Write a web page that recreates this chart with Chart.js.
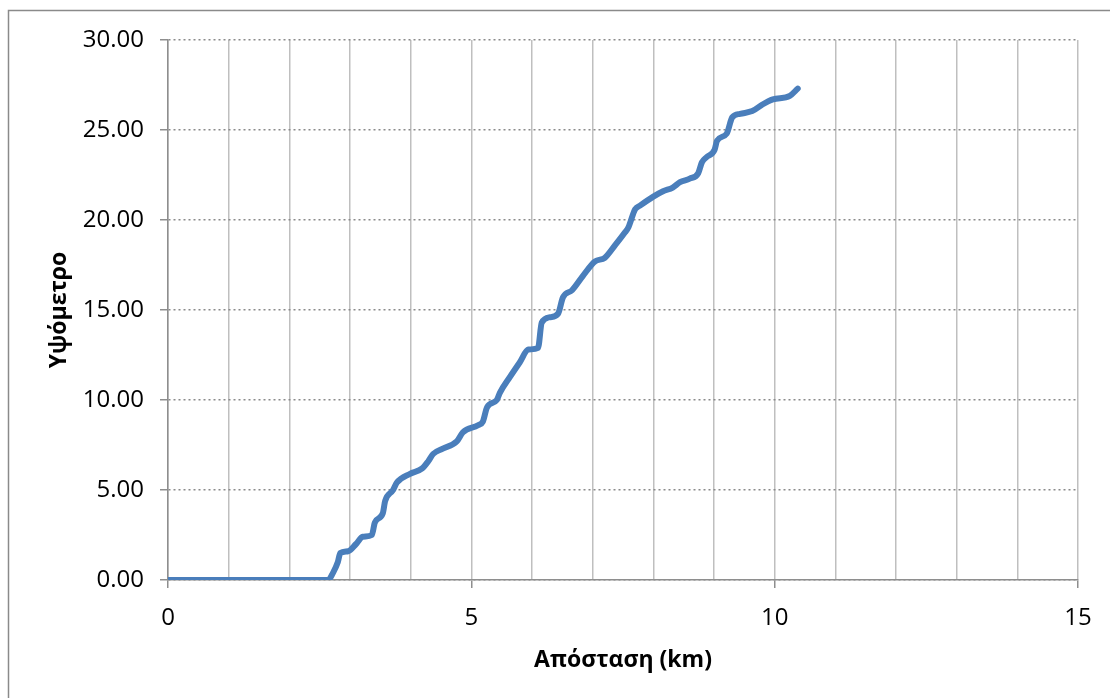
<!DOCTYPE html>
<html lang="el">
<head>
    <meta charset="UTF-8" />
    <title>Υψόμετρο - Απόσταση</title>
    <script src="https://cdn.jsdelivr.net/npm/chart.js"></script>
    <style>
        body { margin: 0; background: #fff; }
        canvas { display: block; }
    </style>
</head>
<body>
<canvas id="elevationChart" width="1110" height="698"></canvas>
<script>
    // distance along the route (km) and elevation
    const dist = [0, 2.64, 2.72, 2.80, 2.84, 2.97, 3.10, 3.21, 3.36, 3.41, 3.54, 3.58, 3.71, 3.77, 3.99,
        4.19, 4.29, 4.37, 4.53, 4.76, 4.86, 5.11, 5.19, 5.26, 5.42, 5.47, 5.64, 5.80, 5.94, 6.10, 6.16,
        6.30, 6.43, 6.51, 6.66, 6.84, 7.04, 7.20, 7.37, 7.53, 7.59, 7.70, 7.78, 8.00, 8.16, 8.32, 8.44,
        8.60, 8.74, 8.80, 8.88, 9.01, 9.05, 9.21, 9.30, 9.43, 9.63, 9.79, 9.97, 10.25, 10.38];
    const elev = [0, 0, 0.4, 1.0, 1.5, 1.6, 2.0, 2.4, 2.5, 3.2, 3.7, 4.4, 5.0, 5.4, 5.9,
        6.2, 6.6, 7.0, 7.3, 7.7, 8.2, 8.6, 8.8, 9.6, 10.0, 10.4, 11.3, 12.1, 12.8, 12.9, 14.3,
        14.6, 14.8, 15.7, 16.1, 16.9, 17.7, 17.9, 18.6, 19.3, 19.6, 20.6, 20.8, 21.3, 21.6, 21.8, 22.1,
        22.3, 22.6, 23.2, 23.5, 23.9, 24.4, 24.8, 25.7, 25.9, 26.05, 26.4, 26.7, 26.9, 27.3];
    const xLabelTicks = [0, 5, 10, 15];
    const xTitle = 'Απόσταση (km)';
    const yTitle = 'Υψόμετρο';

    const points = dist.map((d, i) => ({ x: d, y: elev[i] }));

    // gray frame round the whole chart, like the spreadsheet export
    const frame = {
        id: 'frame',
        beforeDraw(chart) {
            const ctx = chart.ctx;
            ctx.save();
            ctx.fillStyle = '#fff';
            ctx.fillRect(0, 0, chart.width, chart.height);
            ctx.strokeStyle = '#8a8a8a';
            ctx.lineWidth = 1.5;
            ctx.strokeRect(8.5, 10.5, chart.width + 20, chart.height + 20);
            ctx.restore();
        }
    };

    const tickFont = { family: 'Open Sans', size: 24 };
    const titleFont = { family: 'Open Sans', size: 23, weight: 'bold' };

    new Chart(document.getElementById('elevationChart'), {
        type: 'line',
        data: {
            datasets: [{
                data: points,
                borderColor: '#4a7ebb',
                borderWidth: 6,
                borderCapStyle: 'round',
                borderJoinStyle: 'round',
                pointRadius: 0,
                cubicInterpolationMode: 'monotone',
                fill: false
            }]
        },
        options: {
            responsive: false,
            animation: false,
            layout: { padding: { left: 0, top: 40, right: 32, bottom: 0 } },
            plugins: { legend: { display: false }, tooltip: { enabled: false } },
            scales: {
                x: {
                    type: 'linear',
                    min: 0,
                    max: 15,
                    afterFit(scale) { scale.height = 118; },
                    ticks: {
                        stepSize: 1,
                        autoSkip: false,
                        maxRotation: 0,
                        padding: 16,
                        color: '#000',
                        font: tickFont,
                        callback: v => xLabelTicks.includes(v) ? String(v) : ''
                    },
                    grid: {
                        color: '#bfbfbf',
                        lineWidth: 1.5,
                        tickLength: 8,
                        tickColor: ctx => (ctx.tick && xLabelTicks.includes(ctx.tick.value)) ? '#8e8e8e' : 'rgba(0,0,0,0)'
                    },
                    border: { color: '#8e8e8e', width: 1.5 },
                    title: {
                        display: true,
                        text: xTitle,
                        color: '#000',
                        font: titleFont,
                        padding: { top: 0, bottom: 24 }
                    }
                },
                y: {
                    min: 0,
                    max: 30,
                    afterFit(scale) { scale.width = 168; },
                    ticks: {
                        stepSize: 5,
                        padding: 16,
                        color: '#000',
                        font: tickFont,
                        callback: v => v.toFixed(2)
                    },
                    grid: {
                        color: '#8a8a8a',
                        lineWidth: 1.5,
                        tickLength: 8,
                        tickColor: '#8e8e8e'
                    },
                    border: { color: '#8e8e8e', width: 1.5, dash: [2, 3] },
                    title: {
                        display: true,
                        text: yTitle,
                        color: '#000',
                        font: titleFont,
                        padding: { top: 46, bottom: 0 }
                    }
                }
            }
        },
        plugins: [frame]
    });
</script>
</body>
</html>
